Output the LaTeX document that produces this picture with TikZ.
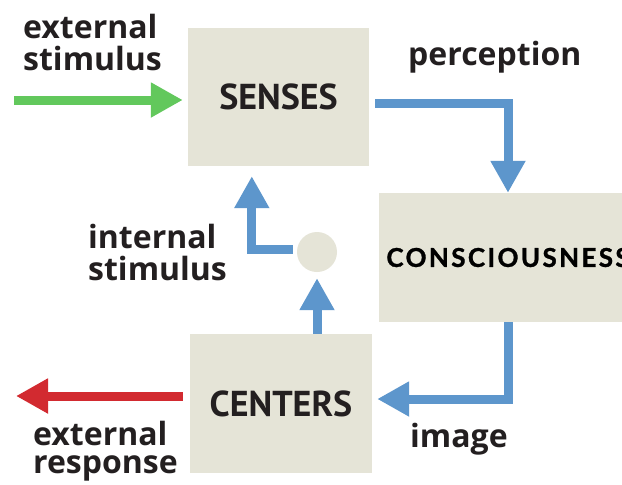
\documentclass[tikz,border=0pt]{standalone}
\usepackage{fontspec}
\setmainfont{PT Sans}
\newfontfamily\consfont{Lato}
\newfontfamily\labfont{Open Sans}
\usetikzlibrary{arrows.meta,calc}
\definecolor{boxfill}{RGB}{229,228,215}
\definecolor{arrblue}{RGB}{93,150,204}
\definecolor{arrgreen}{RGB}{98,200,92}
\definecolor{arrred}{RGB}{210,42,48}
\definecolor{txt}{RGB}{35,31,32}
\begin{document}
\begin{tikzpicture}[x=1pt,y=-1pt,
  box/.style={rectangle, fill=boxfill, draw=none, inner sep=0pt, text=txt},
  bigtxt/.style={font=\bfseries\fontsize{36}{40}\selectfont},
  lab/.style={inner sep=0pt, text=txt, align=left, font=\labfont\bfseries\fontsize{32}{32}\selectfont},
  arr/.style={line width=9pt, line join=miter, -{Triangle[width=33pt,length=32pt]}},
  bluearr/.style={arr, draw=arrblue},
]
\clip (0,0) rectangle (622,485);
\fill[white] (0,0) rectangle (622,485);

% boxes
\node[box, bigtxt, minimum width=181pt, minimum height=138pt] (senses) at (278.5,97) {SENSES};
\node[box, minimum width=258pt, minimum height=129pt,
      font=\consfont\bfseries\fontsize{26}{28}\selectfont, text=black] (cons) at (508,257.5)
      {\addfontfeatures{LetterSpace=9,FakeBold=1.2}CONSCIOUSNESS};
\node[box, bigtxt, minimum width=182pt, minimum height=139pt] (centers) at (281,403.5) {CENTERS};
\node[circle, fill=boxfill, inner sep=0pt, minimum size=40pt] (circ) at (317,252) {};

% labels
\node[lab, anchor=base west] (lextstim) at (23,70) {external\\stimulus};
\node[lab, anchor=base west] (lperc) at (408,65) {perception};
\node[lab, anchor=base west] (lintstim) at (88,280) {internal\\stimulus};
\node[lab, anchor=base west, font=\labfont\bfseries\fontsize{32}{28}\selectfont] (lextresp) at (33,473) {external\\response};
\node[lab, anchor=base west] (limage) at (410,447) {image};

% free ends
\coordinate (gstart) at (14,100);
\coordinate (rend) at (16,396);

% arrows
\draw[arr, draw=arrgreen, shorten >=5pt] (gstart) -- (gstart -| senses.west);
\draw[bluearr] ($(senses.east)+(6,6)$) -| (cons.north);
\draw[bluearr, shorten >=5pt] (cons.south) |- ($(centers.east)+(0,-4.5)$);
\draw[arr, draw=arrred] ($(centers.west)+(-7,-7.5)$) -- (rend);
\draw[bluearr, shorten >=6pt] (centers.north -| circ.south) -- (circ.south);
\draw[bluearr, shorten >=10pt] ($(circ.west)+(-4,-3)$) -| ($(senses.south west)+(64,0)$);
\end{tikzpicture}
\end{document}
